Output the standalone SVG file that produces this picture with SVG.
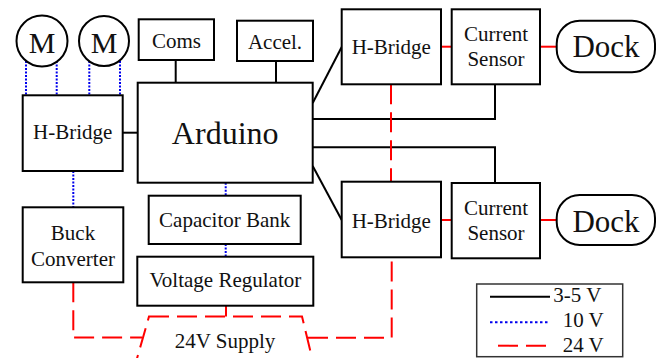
<svg xmlns="http://www.w3.org/2000/svg" width="661" height="358" viewBox="0 0 661 358">
<style>
.box{fill:#fff;stroke:#000;stroke-width:2}
.t{font-family:"Liberation Serif","Times New Roman",serif;font-size:21px;fill:#111;text-anchor:middle}
.big{font-size:32px}
.dk{font-size:31px}
.m{font-size:30px}
.s{fill:none;stroke:#000;stroke-width:2}
.b{fill:none;stroke:#0000ee;stroke-width:2;stroke-dasharray:2,1.5}
.r{fill:none;stroke:#ff0000;stroke-width:2}
.rd{fill:none;stroke:#ff0000;stroke-width:2;stroke-dasharray:20,8}
</style>
<rect width="661" height="358" fill="#fff"/>
<g id="connectors">
<line class="s" x1="175.7" y1="60" x2="175.7" y2="82.7"/>
<line class="s" x1="276" y1="61" x2="276" y2="82.7"/>
<line class="s" x1="122.7" y1="132.7" x2="137.7" y2="132.7"/>
<line class="s" x1="312.7" y1="103" x2="341.7" y2="47"/>
<line class="s" x1="312.7" y1="166" x2="341.7" y2="220"/>
<polyline class="s" points="312.7,119 495,119 495,84.3"/>
<polyline class="s" points="312.7,147.3 495,147.3 495,183"/>
<line class="b" x1="26" y1="61" x2="26" y2="95.3"/>
<line class="b" x1="56.7" y1="61" x2="56.7" y2="95.3"/>
<line class="b" x1="89.3" y1="61" x2="89.3" y2="95.3"/>
<line class="b" x1="120" y1="61" x2="120" y2="95.3"/>
<line class="b" x1="73.3" y1="171" x2="73.3" y2="207.3"/>
<line class="b" x1="225.7" y1="182.7" x2="225.7" y2="195.7"/>
<line class="b" x1="225.7" y1="244" x2="225.7" y2="256.7"/>
<line class="r" x1="441" y1="46.7" x2="451.7" y2="46.7"/>
<line class="r" x1="540" y1="46.7" x2="556.7" y2="46.7"/>
<line class="r" x1="441" y1="220" x2="451.7" y2="220"/>
<line class="r" x1="540" y1="220" x2="556.7" y2="220"/>
<line class="r" x1="226" y1="305.7" x2="226" y2="316.5"/>
<line class="rd" x1="391" y1="84.3" x2="391" y2="182"/>
<polyline class="rd" points="73.3,282.3 73.3,337.5 142,337.5"/>
<polyline class="rd" points="308,337.7 391.7,337.7 391.7,258"/>
</g>
<g id="supply">
<polygon class="rd" points="149,316.5 302,316.5 313,362 136,362"/>
<text class="t" x="225" y="348">24V Supply</text>
</g>
<g id="motor1">
<circle cx="42" cy="41" r="25.5" fill="#fff" stroke="#000" stroke-width="2"/>
<text class="t m" x="42" y="52.5">M</text>
</g>
<g id="motor2">
<circle cx="104" cy="41" r="25" fill="#fff" stroke="#000" stroke-width="2"/>
<text class="t m" x="104" y="52.5">M</text>
</g>
<g id="coms">
<rect class="box" x="138.7" y="19.3" width="75.3" height="40.7"/>
<text class="t" x="176.5" y="47.5">Coms</text>
</g>
<g id="accel">
<rect class="box" x="237" y="20.7" width="76" height="40.3"/>
<text class="t" x="275" y="49">Accel.</text>
</g>
<g id="hbridge-left">
<rect class="box" x="22.7" y="95.3" width="100" height="75.7"/>
<text class="t" x="72.7" y="139.3">H-Bridge</text>
</g>
<g id="arduino">
<rect class="box" x="137.7" y="82.7" width="175" height="100"/>
<text class="t big" x="225.2" y="144">Arduino</text>
</g>
<g id="hbridge-top">
<rect class="box" x="341.7" y="9.3" width="99.3" height="75"/>
<text class="t" x="391.3" y="54">H-Bridge</text>
</g>
<g id="sensor-top">
<rect class="box" x="451.7" y="9.3" width="88.3" height="75"/>
<text class="t" x="496" y="41.3">Current</text>
<text class="t" x="496" y="66.3">Sensor</text>
</g>
<g id="dock-top">
<rect class="box" x="556.7" y="20.7" width="98.3" height="51.6" rx="23" ry="23"/>
<text class="t dk" x="606" y="57.3">Dock</text>
</g>
<g id="hbridge-bottom">
<rect class="box" x="341.7" y="181.7" width="99.3" height="75.6"/>
<text class="t" x="391.3" y="227.7">H-Bridge</text>
</g>
<g id="sensor-bottom">
<rect class="box" x="451.7" y="183" width="88.3" height="75.3"/>
<text class="t" x="496" y="215">Current</text>
<text class="t" x="496" y="240">Sensor</text>
</g>
<g id="dock-bottom">
<rect class="box" x="556.7" y="195" width="98.3" height="50" rx="23" ry="23"/>
<text class="t dk" x="606" y="231.7">Dock</text>
</g>
<g id="buck">
<rect class="box" x="22.7" y="207.3" width="100.6" height="75"/>
<text class="t" x="73" y="240">Buck</text>
<text class="t" x="73" y="266">Converter</text>
</g>
<g id="capbank">
<rect class="box" x="148.7" y="195.7" width="152" height="48.3"/>
<text class="t" x="224.7" y="226.7">Capacitor Bank</text>
</g>
<g id="regulator">
<rect class="box" x="137.3" y="256.7" width="176" height="49"/>
<text class="t" x="225.3" y="287.3">Voltage Regulator</text>
</g>
<g id="legend">
<rect x="476.7" y="284" width="146" height="72.7" fill="#fff" stroke="#333" stroke-width="1.5"/>
<line class="s" x1="490" y1="296.7" x2="550" y2="296.7"/>
<line x1="490" y1="322.3" x2="550" y2="322.3" stroke="#0000ee" stroke-width="2" stroke-dasharray="2.5,2.5"/>
<line class="rd" x1="490" y1="345.7" x2="550" y2="345.7" stroke-dashoffset="-8"/>
<text class="t" x="553.3" y="301.7" text-anchor="start" style="text-anchor:start">3-5 V</text>
<text class="t" x="562.7" y="326.7" style="text-anchor:start">10 V</text>
<text class="t" x="562.7" y="351.7" style="text-anchor:start">24 V</text>
</g>
</svg>
